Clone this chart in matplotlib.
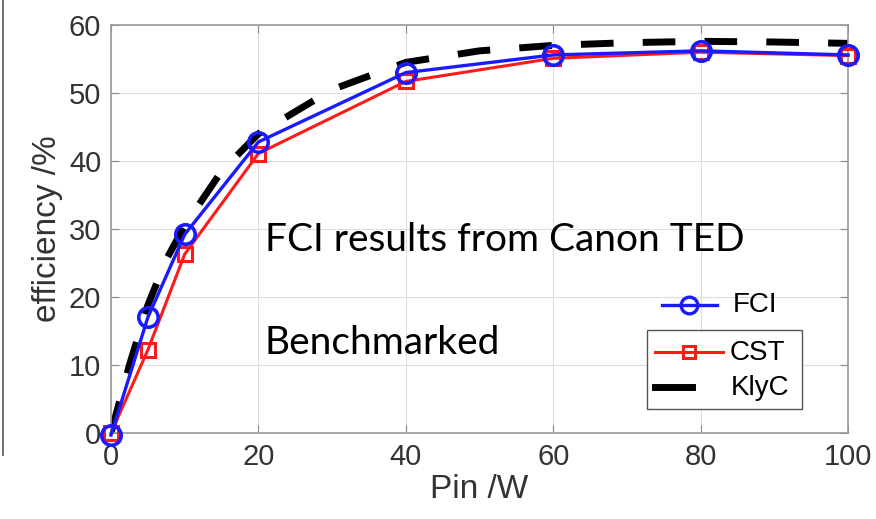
import matplotlib.pyplot as plt
from matplotlib.lines import Line2D
from matplotlib.patches import Rectangle

# measured efficiency vs input power
pin_fci = [0, 5, 10, 20, 40, 60, 80, 100]
eff_fci = [-0.3, 17.0, 29.2, 42.8, 53.0, 55.6, 56.2, 55.6]

pin_cst = [0, 5, 10, 20, 40, 60, 80, 100]
eff_cst = [0.0, 12.2, 26.3, 41.1, 51.7, 55.1, 56.0, 55.5]

pin_klyc = [0, 2.5, 5, 7.5, 10, 15, 20, 30, 40, 50, 60, 70, 80, 90, 100]
eff_klyc = [0.0, 10.0, 18.8, 25.5, 30.5, 38.5, 44.0, 50.5, 54.5, 56.2, 57.0, 57.4, 57.6, 57.5, 57.3]

xticks = [0, 20, 40, 60, 80, 100]
yticks = [0, 10, 20, 30, 40, 50, 60]

plt.rcParams['font.family'] = ['Liberation Sans', 'DejaVu Sans']

W, H = 876, 519


def px(x, y):
    # pixel position (from top-left) -> figure fraction
    return x / W, 1 - y / H


fig = plt.figure(figsize=(W / 100, H / 100), dpi=100)
ax = fig.add_axes([111 / W, 1 - 433 / H, (848 - 111) / W, (433 - 25) / H])

ax.plot(pin_klyc, eff_klyc, color='black', lw=5, dashes=(4.7, 4.2), zorder=2)
ax.plot(pin_cst, eff_cst, color='#ff1a1a', lw=2.2, marker='s', ms=10,
        mfc='none', mew=2.2, zorder=3, clip_on=False)
ax.plot(pin_fci, eff_fci, color='#1a1aff', lw=2.4, marker='o', ms=14,
        mfc='none', mew=2.6, zorder=4, clip_on=False)

ax.set_xlim(0, 100)
ax.set_ylim(0, 60)
ax.set_xticks(xticks)
ax.set_yticks(yticks)
ax.grid(True, color='#dddddd', lw=0.8)
ax.set_axisbelow(True)
ax.tick_params(direction='in', length=6, width=0.8, colors='#888888',
               labelcolor='#333333', labelsize=21, pad=7, top=True, right=True)
for s in ax.spines.values():
    s.set_color('#999999')
    s.set_linewidth(1.2)

ax.set_xlabel('Pin /W', fontsize=24, color='#333333', labelpad=2)
ax.set_ylabel('efficiency /%', fontsize=24, color='#333333', labelpad=4)

fig.text(*px(265, 240), 'FCI results from Canon TED', fontsize=28,
         family=['Lato', 'DejaVu Sans'], va='center', ha='left')
fig.text(*px(265, 343), 'Benchmarked', fontsize=28, family=['Lato', 'DejaVu Sans'],
         va='center', ha='left')

# legend: FCI entry sits above the framed box
fig.add_artist(Line2D([px(662, 0)[0], px(717, 0)[0]], [px(0, 305)[1]] * 2,
                      color='#1a1aff', lw=2.4))
fig.add_artist(Line2D([px(689, 0)[0]], [px(0, 305)[1]], marker='o', ms=12,
                      mfc='none', mec='#1a1aff', mew=2.4, color='#1a1aff'))
fig.text(*px(733, 305), 'FCI', fontsize=20, va='center', ha='left')

x0, y0 = px(647, 409)
x1, y1 = px(802, 330)
fig.add_artist(Rectangle((x0, y0), x1 - x0, y1 - y0, transform=fig.transFigure,
                         fill=True, fc='white', ec='#555555', lw=1.0, zorder=5))
fig.add_artist(Line2D([px(655, 0)[0], px(723, 0)[0]], [px(0, 352)[1]] * 2,
                      color='#ff1a1a', lw=2.2, zorder=6))
fig.add_artist(Line2D([px(689, 0)[0]], [px(0, 352)[1]], marker='s', ms=9,
                      mfc='none', mec='#ff1a1a', mew=2.2, zorder=6))
fig.text(*px(730, 353), 'CST', fontsize=20, va='center', ha='left', zorder=6)
fig.add_artist(Line2D([px(655, 0)[0], px(692, 0)[0]], [px(0, 387)[1]] * 2,
                      color='black', lw=5, zorder=6))
fig.text(*px(731, 388), 'KlyC', fontsize=20, va='center', ha='left', zorder=6)

# edge of the neighbouring panel on the left
fig.add_artist(Line2D([px(3, 0)[0]] * 2, [1, px(0, 455)[1]], color='#555555', lw=1.2))

fig.savefig('out.png', dpi=100)
